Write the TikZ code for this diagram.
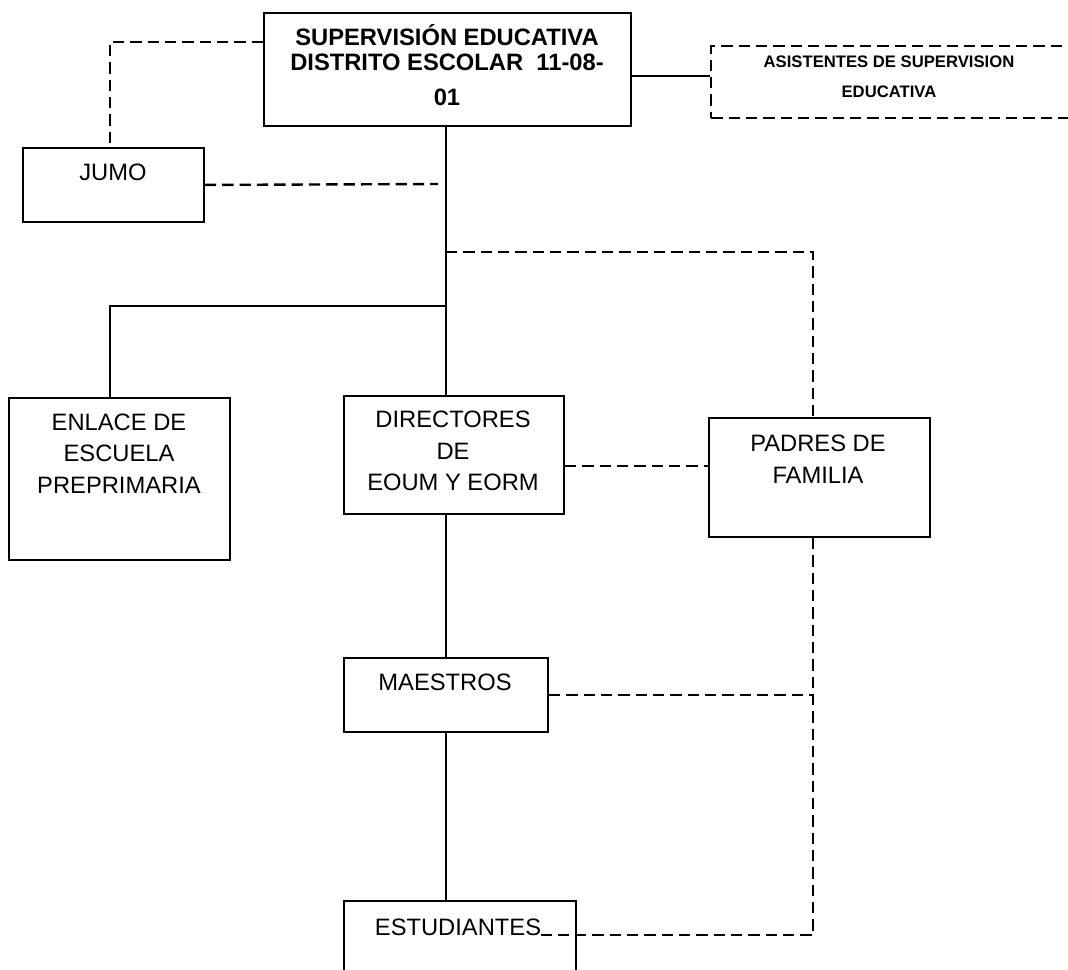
\documentclass[tikz,border=0pt]{standalone}
\usepackage{fontspec}
\setmainfont{Liberation Sans}
\begin{document}
\begin{tikzpicture}[x=0.75pt, y=-0.75pt]
    \tikzstyle{box} = [draw, rectangle, line width=1.4pt, anchor=north west, inner sep=0pt]
    \tikzstyle{dbox} = [box, line width=1.8pt, dash pattern=on 8.5pt off 4.5pt]
    \tikzstyle{txt} = [inner sep=0pt, align=center, font=\fontsize{17.8}{23.8}\selectfont]
    \tikzstyle{btxt} = [txt, font=\fontsize{17.8}{18.75}\selectfont\bfseries]
    \tikzstyle{stxt} = [txt, font=\fontsize{12.5}{22.5}\selectfont\bfseries]
    \tikzstyle{link} = [draw, line width=1.2pt]
    \tikzstyle{dlink} = [draw, line width=1.8pt, dash pattern=on 8.5pt off 4.5pt]

    \useasboundingbox (0,0) rectangle (1068,970);
    \clip (0,0) rectangle (1068,970);

    % Boxes
    \node[box, minimum width=275.25pt, minimum height=84.75pt] (sup) at (263,12) {};
    \node[dbox, minimum width=280pt, minimum height=54pt] (asis) at (710,45) {};
    \node[box, minimum width=135.75pt, minimum height=55.5pt] (jumo) at (22,147) {};
    \node[box, minimum width=165.75pt, minimum height=121.5pt] (enlace) at (8,397) {};
    \node[box, minimum width=165pt, minimum height=88.5pt] (dir) at (343,395) {};
    \node[box, minimum width=165.75pt, minimum height=89.25pt] (padres) at (708,417) {};
    \node[box, minimum width=153pt, minimum height=55.5pt] (maestros) at (343,657) {};
    \node[box, minimum width=174pt, minimum height=75pt] (estud) at (343,900) {};

    % Texts
    \node[btxt] (sup-t) at (447,65) {SUPERVISIÓN EDUCATIVA\\DISTRITO ESCOLAR~~11-08-\\[7pt]01};
    \node[stxt] (asis-t) at (889,77) {ASISTENTES DE SUPERVISION\\EDUCATIVA};
    \node[txt] (jumo-t) at (113,172) {JUMO};
    \node[txt] (enlace-t) at (119,453.5) {ENLACE DE\\ESCUELA\\PREPRIMARIA};
    \node[txt] (dir-t) at (453,451) {DIRECTORES\\DE\\EOUM Y EORM};
    \node[txt] (padres-t) at (818,459.5) {PADRES DE\\FAMILIA};
    \node[txt] (maestros-t) at (445,682) {MAESTROS};
    \node[txt] (estud-t) at (458,927) {ESTUDIANTES};

    % Columns of the connectors
    \coordinate (lcol) at (110,306);
    \coordinate (pcol) at (813,252);
    \coordinate (jumo-end) at (438,184);

    % Solid connectors
    \draw[link] (sup.south -| maestros.north) -- (dir.north -| maestros.north);
    \draw[link] (dir.south -| maestros.north) -- (maestros.north);
    \draw[link] (maestros.south) -- (estud.north -| maestros.south);
    \draw[link] (sup.east |- 0,76) -- (asis.west |- 0,76);
    \draw[link] (lcol -| maestros.north) -- (lcol) -- (enlace.north -| lcol);

    % Dashed connectors
    \draw[dlink] (sup.west |- 0,42) -| (jumo.north -| lcol);
    \draw[dlink] (jumo.east) -- (jumo-end);
    \draw[dlink] (pcol -| maestros.north) -- (pcol) -- (padres.north -| pcol);
    \draw[dlink] (dir.east |- 0,466) -- (padres.west |- 0,466);
    \draw[dlink] (maestros.east) -- (maestros.east -| pcol);
    \draw[dlink] (padres.south -| pcol) -- (pcol |- estud-t.base east) -- (estud-t.base east);
\end{tikzpicture}
\end{document}
